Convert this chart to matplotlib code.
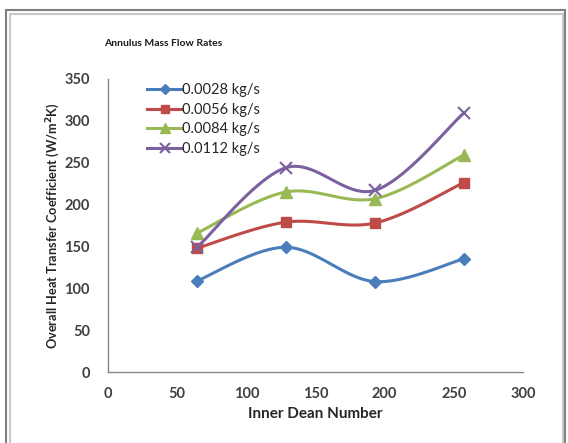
import numpy as np
import matplotlib
matplotlib.use("Agg")
from matplotlib import pyplot as plt
from matplotlib.patches import Rectangle

plt.rcParams['font.family'] = ['Lato', 'DejaVu Sans']

dean = [64.5, 128.5, 193, 257]
u_0028 = [109, 149, 108, 135]
u_0056 = [148, 179, 178, 226]
u_0084 = [166, 215, 207, 259]
u_0112 = [149, 244, 217, 309]

labels = ['0.0028 kg/s', '0.0056 kg/s', '0.0084 kg/s', '0.0112 kg/s']
colors = ['#4A7EBB', '#BE4B48', '#98B954', '#7D60A0']
markers = ['D', 's', '^', 'x']
msizes = [6, 7, 8, 8]


def smooth(x, y, n=40):
    # bezier through the points, control points from neighbouring slopes
    x = np.asarray(x, float)
    y = np.asarray(y, float)
    px = np.concatenate([[x[0]], x, [x[-1]]])
    py = np.concatenate([[y[0]], y, [y[-1]]])
    xs, ys = [], []
    t = np.linspace(0, 1, n)
    for i in range(1, len(px) - 2):
        p0 = np.array([px[i], py[i]])
        p3 = np.array([px[i + 1], py[i + 1]])
        c1 = p0 + (np.array([px[i + 1], py[i + 1]]) - np.array([px[i - 1], py[i - 1]])) / 6
        c2 = p3 - (np.array([px[i + 2], py[i + 2]]) - np.array([px[i], py[i]])) / 6
        b = ((1 - t) ** 3)[:, None] * p0 + (3 * (1 - t) ** 2 * t)[:, None] * c1 \
            + (3 * (1 - t) * t ** 2)[:, None] * c2 + (t ** 3)[:, None] * p3
        xs.extend(b[:, 0])
        ys.extend(b[:, 1])
    return xs, ys


fig = plt.figure(figsize=(5.68, 4.43), dpi=100)

# chart frame
fig.patches.append(Rectangle((6 / 568, -0.05), 559 / 568, (443 - 10) / 443 + 0.05,
                             transform=fig.transFigure, fill=False,
                             edgecolor='#808080', linewidth=1.5))
fig.patches.append(Rectangle((9.5 / 568, -0.05), 553 / 568, (443 - 14) / 443 + 0.05,
                             transform=fig.transFigure, fill=False,
                             edgecolor='#C8C8C8', linewidth=1.5))

ax = fig.add_axes([108 / 568, (443 - 372) / 443, 415 / 568, 293 / 443])

series = [u_0028, u_0056, u_0084, u_0112]
for vals, lab, c, m, ms in zip(series, labels, colors, markers, msizes):
    sx, sy = smooth(dean, vals)
    ax.plot(sx, sy, color=c, linewidth=2.2, solid_capstyle='round')
    ax.plot(dean, vals, linestyle='none', marker=m, markersize=ms, color=c,
            markeredgewidth=1.5 if m == 'x' else 1)
    ax.plot([], [], color=c, linewidth=2.2, marker=m, markersize=ms,
            markeredgewidth=1.5 if m == 'x' else 1, label=lab)

ax.set_xlim(0, 300)
ax.set_ylim(0, 350)
ax.set_xticks(range(0, 301, 50))
ax.set_yticks(range(0, 351, 50))
for s in ['top', 'right']:
    ax.spines[s].set_visible(False)
for s in ['left', 'bottom']:
    ax.spines[s].set_color('#868686')
    ax.spines[s].set_linewidth(1)
ax.tick_params(length=0, labelsize=10.5, labelcolor='#404040')
ax.tick_params(axis='y', pad=13)
ax.tick_params(axis='x', pad=11)
for t in ax.get_xticklabels() + ax.get_yticklabels():
    t.set_fontweight('bold')

ax.set_xlabel('Inner Dean Number', fontsize=11, fontweight='bold', color='#262626', labelpad=4)
ax.set_ylabel('Overall Heat Transfer Coefficient (W/m$^\\mathbf{2}$K)', fontsize=9.2,
              fontweight='bold', color='#262626', labelpad=2)

fig.text(104 / 568, 1 - 44 / 443, 'Annulus Mass Flow Rates', fontsize=7.5,
         fontweight='bold', color='#1a1a1a', va='center')

leg = ax.legend(loc='upper left', bbox_to_anchor=(0.08, 1.005), frameon=False,
                fontsize=10.5, handlelength=2.4, handletextpad=0.0,
                labelspacing=0.38, borderaxespad=0, markerscale=0.85)
for t in leg.get_texts():
    t.set_color('#262626')

fig.savefig('out.png', dpi=100)
